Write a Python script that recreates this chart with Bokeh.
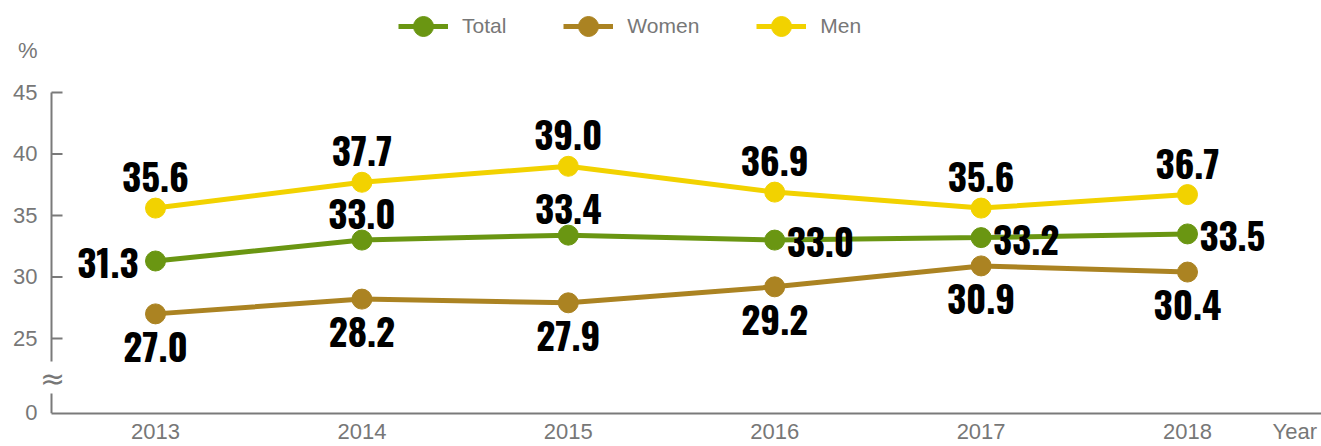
from bokeh.plotting import figure
from bokeh.models import (Range1d, FixedTicker, Legend, LegendItem, Label,
                          ColumnDataSource)
from bokeh.core.properties import value
from bokeh.embed import file_html
from bokeh.resources import INLINE

# ---------------- data ----------------
years = [2013, 2014, 2015, 2016, 2017, 2018]
total = [31.3, 33.0, 33.4, 33.0, 33.2, 33.5]
women = [27.0, 28.2, 27.9, 29.2, 30.9, 30.4]
men = [35.6, 37.7, 39.0, 36.9, 35.6, 36.7]
y_ticks = [25, 30, 35, 40, 45]
zero_label = "0"
x_axis_title = "Year"
y_axis_title = "%"

# label placement keywords per point
total_place = ["left", "above_near", "above_near", "right", "right", "right"]
women_place = ["below"] * 6
men_place = ["above"] * 6

# ---------------- styling / layout ----------------
W, H = 1321, 446
FRAME_LEFT = 40          # px
AXIS_X = 51              # px, where the y axis line is drawn
FRAME_BOTTOM = 413       # px from top of figure
PX_PER_UNIT = 12.3
Y45_PX = 92
X2013_PX = 155
X_STEP = 206.4

y_top = 45 + Y45_PX / PX_PER_UNIT
y_bot = 18.9
x_start = years[0] - (X2013_PX - FRAME_LEFT) / X_STEP
x_end = x_start + (W - FRAME_LEFT) / X_STEP


def xval(px):
    return x_start + (px - FRAME_LEFT) / X_STEP


def yval(py):
    return 45 - (py - Y45_PX) / PX_PER_UNIT


ZERO_T = 19
PCT_T = round(yval(50), 2)
YEAR_T = round(xval(1295), 2)

GRAY = "#777777"
AXIS_GRAY = "#7a7a7a"
C_TOTAL = "#6a9612"
C_WOMEN = "#ab8322"
C_MEN = "#f2d200"
BASE_FONT = "Liberation Sans"
LABEL_FONT = ("Oswald, 'Bebas Neue', 'Roboto Condensed', 'Noto Sans ExtraCondensed', "
              "'Noto Sans Condensed', 'DejaVu Sans Condensed', "
              "'Liberation Sans Narrow', Roboto")

p = figure(width=W, height=H, output_backend="svg", toolbar_location=None,
           x_range=Range1d(x_start, x_end), y_range=Range1d(y_bot, y_top),
           min_border_left=FRAME_LEFT, min_border_right=0, min_border_top=0,
           min_border_bottom=H - FRAME_BOTTOM)
p.outline_line_color = None
p.xgrid.visible = False
p.ygrid.visible = False
p.background_fill_color = "white"

# y axis: labels only (its line and ticks are drawn below at AXIS_X)
ya = p.yaxis[0]
ya.ticker = FixedTicker(ticks=[ZERO_T] + y_ticks + [PCT_T])
ya.major_label_overrides = {ZERO_T: zero_label, PCT_T: y_axis_title}
ya.axis_line_color = None
ya.major_tick_line_color = None
ya.minor_tick_line_color = None
ya.major_tick_in = 0
ya.major_tick_out = 0
ya.major_label_text_font = BASE_FONT
ya.major_label_text_font_size = "22px"
ya.major_label_text_color = GRAY
ya.major_label_standoff = 3

# x axis
xa = p.xaxis[0]
xa.ticker = FixedTicker(ticks=years + [YEAR_T])
ov = {y: str(y) for y in years}
ov[YEAR_T] = x_axis_title
xa.major_label_overrides = ov
xa.bounds = (xval(AXIS_X), x_end)
xa.axis_line_color = AXIS_GRAY
xa.axis_line_width = 2
xa.major_tick_line_color = None
xa.minor_tick_line_color = None
xa.major_tick_in = 0
xa.major_tick_out = 0
xa.major_label_text_font = BASE_FONT
xa.major_label_text_font_size = "22px"
xa.major_label_text_color = GRAY
xa.major_label_standoff = 5

# broken y axis line and inward tick marks
ax0 = xval(AXIS_X)
p.segment(x0=[ax0, ax0], y0=[yval(361), y_bot], x1=[ax0, ax0], y1=[45, yval(393)],
          line_color=AXIS_GRAY, line_width=2)
p.segment(x0=[ax0] * len(y_ticks), y0=y_ticks,
          x1=[xval(AXIS_X + 11)] * len(y_ticks), y1=y_ticks,
          line_color=AXIS_GRAY, line_width=2)

p.add_layout(Label(x=xval(52), y=yval(378), text="≈", text_align="center",
                   text_baseline="middle", text_font="DejaVu Sans",
                   text_font_size="30px", text_color=GRAY))

PLACE = {
    "above": (0, -31, "center"),
    "above_near": (0, -26, "center"),
    "below": (0, 33, "center"),
    "left": (-17, 2, "right"),
    "right": (12, 2, "left"),
}

items = []
series = [("Total", total, C_TOTAL, total_place),
          ("Women", women, C_WOMEN, women_place),
          ("Men", men, C_MEN, men_place)]
for name, vals, col, place in series:
    ln = p.line(years, vals, line_color=col, line_width=5)
    sc = p.scatter(years, vals, size=20, fill_color=col, line_color=col)
    items.append(LegendItem(label=name, renderers=[ln, sc]))

for name, vals, col, place in series:
    src = ColumnDataSource(dict(
        x=years, y=vals, text=[f"{v:.1f}" for v in vals],
        dx=[PLACE[k][0] for k in place], dy=[PLACE[k][1] for k in place],
        al=[PLACE[k][2] for k in place]))
    p.text(x="x", y="y", text="text", x_offset="dx", y_offset="dy",
           text_align="al", text_baseline="alphabetic", source=src,
           text_font=value(LABEL_FONT), text_font_style="bold",
           text_font_size="37px", text_color="black")

legend = Legend(items=items, orientation="horizontal",
                location=(398 - FRAME_LEFT, 362),
                glyph_width=50, glyph_height=50, label_standoff=14, spacing=57,
                padding=0, margin=0, border_line_color=None,
                background_fill_alpha=0, label_text_font=BASE_FONT,
                label_text_font_size="21px", label_text_color=GRAY)
p.add_layout(legend)

open("out.html", "w").write(file_html(p, INLINE))
